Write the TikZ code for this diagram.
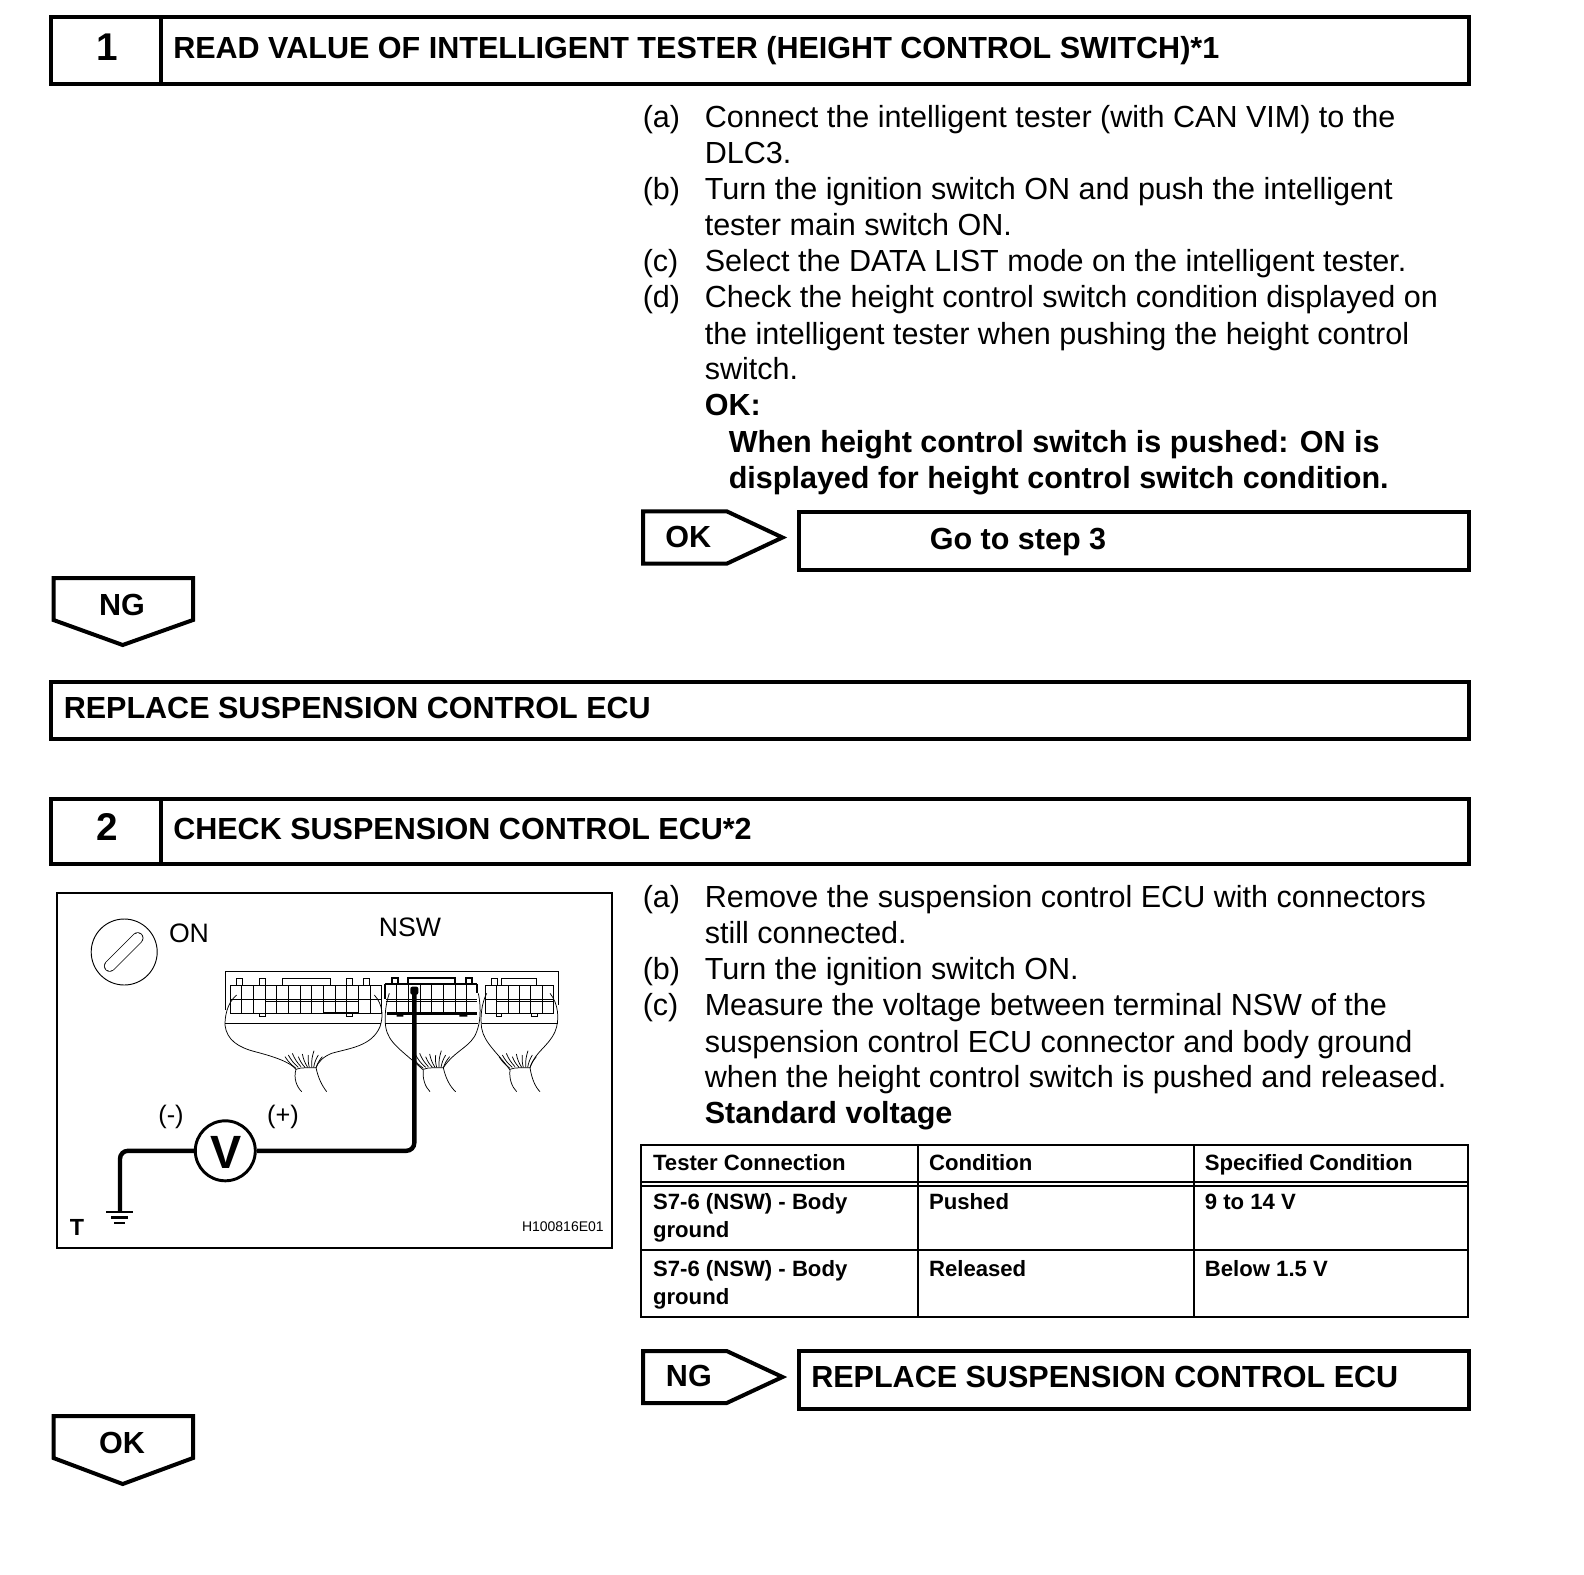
\documentclass[tikz,border=0pt]{standalone}
\usepackage{fontspec}
\setmainfont{Liberation Sans}
\tikzset{
 body/.style={anchor=base west,inner sep=0pt,font=\fontsize{22.9}{26}\selectfont},
 boldt/.style={anchor=base west,inner sep=0pt,font=\fontsize{22.9}{26}\selectfont\bfseries},
 headt/.style={anchor=base west,inner sep=0pt,font=\fontsize{22.9}{26}\selectfont\bfseries},
 numt/.style={inner sep=0pt,font=\fontsize{29}{32}\selectfont\bfseries},
 cellt/.style={anchor=base west,inner sep=0pt,font=\fontsize{16.6}{20}\selectfont\bfseries},
 frame/.style={draw=black,line width=3pt,fill=white},
 tag/.style={draw=black,line width=3pt,fill=white,line join=miter},
 tline/.style={draw=black,line width=1.5pt},
 thin line/.style={draw=black,line width=0.55pt},
 thick part/.style={draw=black,line width=1.5pt},
 probe/.style={draw=black,line width=3.3pt,rounded corners=6pt},
 figt/.style={inner sep=0pt,font=\fontsize{20}{24}\selectfont},
}
\begin{document}
\begin{tikzpicture}[x=0.75pt,y=-0.75pt]
\useasboundingbox (0,0) rectangle (1584,1574);
\fill[white] (0,0) rectangle (1584,1574);

% ---- step 1
\draw[frame] (51.2,17) rectangle (1468.7,84);
\draw[frame] (161.3,17) -- (161.3,84);
\node[numt] (n1) at (107,47) {1};
\node[headt] (h1) at (173,58.5) {READ VALUE OF INTELLIGENT TESTER (HEIGHT CONTROL SWITCH)*1};

\node[body] (a1) at (642.5,127.7) {(a)};
\node[body] (a1x) at (704.5,127.7) {Connect the intelligent tester (with CAN VIM) to the};
\node[body] (a2x) at (704.5,163.7) {DLC3.};
\node[body] (b1) at (642.5,199.7) {(b)};
\node[body] (b1x) at (704.5,199.7) {Turn the ignition switch ON and push the intelligent};
\node[body] (b2x) at (704.5,235.2) {tester main switch ON.};
\node[body] (c1) at (642.5,271.7) {(c)};
\node[body] (c1x) at (704.5,271.7) {Select the DATA LIST mode on the intelligent tester.};
\node[body] (d1) at (642.5,307.7) {(d)};
\node[body] (d1x) at (704.5,307.7) {Check the height control switch condition displayed on};
\node[body] (d2x) at (704.5,344.2) {the intelligent tester when pushing the height control};
\node[body] (d3x) at (704.5,379.7) {switch.};
\node[boldt] (ok1) at (704.5,415.7) {OK:};
\node[boldt] (ok2) at (728.5,452.2) {When height control switch is pushed: ON is};
\node[boldt] (ok3) at (728.5,488.7) {displayed for height control switch condition.};

\draw[tag] (643,511.3) -- (726.7,511.3) -- (782.5,537.5) -- (726.7,563.7) -- (643,563.7) -- cycle;
\node[headt] (okt) at (665,547.5) {OK};
\draw[frame] (799,512) rectangle (1468.7,570);
\node[headt] (go) at (929.5,549) {Go to step 3};

\draw[tag] (53.5,578) -- (193,578) -- (193,620) -- (122.7,645) -- (53.5,620) -- cycle;
\node[headt,anchor=center] (ng1) at (122,604.5) {NG};

\draw[frame] (51.2,682) rectangle (1468.7,738.5);
\node[headt] (r1) at (63.5,718) {REPLACE SUSPENSION CONTROL ECU};

% ---- step 2
\draw[frame] (51.2,799) rectangle (1468.7,864);
\draw[frame] (161.3,799) -- (161.3,864);
\node[numt] (n2) at (107,827) {2};
\node[headt] (h2) at (173,839.5) {CHECK SUSPENSION CONTROL ECU*2};

\node[body] (e1) at (642.5,907.7) {(a)};
\node[body] (e1x) at (704.5,907.7) {Remove the suspension control ECU with connectors};
\node[body] (e2x) at (704.5,943.2) {still connected.};
\node[body] (f1) at (642.5,979.7) {(b)};
\node[body] (f1x) at (704.5,979.7) {Turn the ignition switch ON.};
\node[body] (g1) at (642.5,1015.7) {(c)};
\node[body] (g1x) at (704.5,1015.7) {Measure the voltage between terminal NSW of the};
\node[body] (g2x) at (704.5,1052.2) {suspension control ECU connector and body ground};
\node[body] (g3x) at (704.5,1087.7) {when the height control switch is pushed and released.};
\node[boldt] (std) at (704.5,1123.7) {Standard voltage};

% ---- table
\draw[tline] (641,1145) rectangle (1468,1316.5);
\draw[tline] (641,1181.7) -- (1468,1181.7);
\draw[tline] (641,1185.7) -- (1468,1185.7);
\draw[tline] (641,1249.5) -- (1468,1249.5);
\draw[tline] (917.5,1145) -- (917.5,1318);
\draw[tline] (1193.5,1145) -- (1193.5,1318);
\node[cellt] (c11) at (652.8,1170) {Tester Connection};
\node[cellt] (c12) at (928.8,1170) {Condition};
\node[cellt] (c13) at (1204.6,1170) {Specified Condition};
\node[cellt] (c21) at (652.8,1209.5) {S7-6 (NSW) - Body};
\node[cellt] (c21b) at (652.8,1237) {ground};
\node[cellt] (c22) at (928.8,1209.5) {Pushed};
\node[cellt] (c23) at (1204.6,1209.5) {9 to 14 V};
\node[cellt] (c31) at (652.8,1276) {S7-6 (NSW) - Body};
\node[cellt] (c31b) at (652.8,1304) {ground};
\node[cellt] (c32) at (928.8,1276) {Released};
\node[cellt] (c33) at (1204.6,1276) {Below 1.5 V};

\draw[tag] (643,1351) -- (726.7,1351) -- (782.5,1377) -- (726.7,1403) -- (643,1403) -- cycle;
\node[headt] (ngt) at (665.7,1386) {NG};
\draw[frame] (799,1351) rectangle (1468.7,1408.5);
\node[headt] (r2) at (811,1387) {REPLACE SUSPENSION CONTROL ECU};

\draw[tag] (53.5,1416) -- (193,1416) -- (193,1458) -- (122.7,1484) -- (53.5,1458) -- cycle;
\node[headt,anchor=center] (ok2t) at (122,1442.5) {OK};

% ---- figure
\draw[draw=black,line width=1.5pt] (57,893) rectangle (612,1247.5);
\node[draw=black,line width=0.7pt,circle,minimum size=66pt*0.75,inner sep=0pt] (key) at (124.2,952) {};
\draw[black,line width=8.6pt,line cap=round] (109.7,966) -- (137.7,938);
\draw[white,line width=7.5pt,line cap=round] (109.7,966) -- (137.7,938);
\node[figt] (on) at (189,933) {ON};
\node[figt] (nsw) at (410,927) {NSW};

\begin{scope}[shift={(215,960)},x=0.25pt,y=-0.25pt]
 % outer shell
 \draw[thin line] (30,150) -- (30,35) -- (1030,35) -- (1030,135);
 \draw[thin line] (30,190) -- (498,190) (510,190) -- (790,190) (800,190) -- (1030,190);
 % block 1
 \draw[thin line] (47,75) rectangle (498,160);
 \draw[thin line] (47,118) -- (498,118) (150,125) -- (430,125);
 \foreach \vx in {80,115,150,185,220,255,290,325,360,395,430,465}
  \draw[thin line] (\vx,75) -- (\vx,160);
 \foreach \ta/\tb in {65/82,132/150,202/345,395/412,445/462}
  \draw[thin line] (\ta,75) -- (\ta,55) -- (\tb,55) -- (\tb,75);
 \foreach \ta/\tb in {132/150,395/412}
  \draw[thin line] (\ta,160) -- (\ta,168) -- (\tb,168) -- (\tb,160);
 \draw[thick part] (328,160) -- (432,160);
 % block 2
 \draw[thin line] (512,118) -- (787,118) (512,125) -- (787,125);
 \foreach \vx in {545,580,615,650,685,720,755}
  \draw[thin line] (\vx,72) -- (\vx,160);
 \draw[thick part] (510,72) -- (787,72) (510,72) -- (510,118) (787,72) -- (787,98);
 \draw[draw=black,line width=2pt] (515,160) -- (785,160);
 \foreach \ta/\tb in {530/548,580/720,752/770}
  \draw[thick part] (\ta,72) -- (\ta,53) -- (\tb,53) -- (\tb,72);
 \fill[black] (545,160) rectangle (565,170) (733,160) rectangle (757,170);
 % block 3
 \draw[thin line] (810,75) rectangle (1015,160);
 \draw[thin line] (810,118) -- (1015,118) (845,125) -- (1015,125);
 \foreach \vx in {845,880,913,947,983}
  \draw[thin line] (\vx,75) -- (\vx,160);
 \foreach \ta/\tb in {830/848,860/965}
  \draw[thin line] (\ta,75) -- (\ta,55) -- (\tb,55) -- (\tb,75);
 \foreach \ta/\tb in {845/860,950/967}
  \draw[thin line] (\ta,160) -- (\ta,168) -- (\tb,168) -- (\tb,160);
 % harness 1
 \draw[thin line] (65,105) .. controls (35,130) and (30,170) .. (30,195) .. controls (35,240) and (70,262) .. (120,275) .. controls (170,288) and (225,305) .. (243,328) .. controls (235,355) and (245,380) .. (260,395);
 \draw[thin line] (478,105) .. controls (505,135) and (505,170) .. (495,200) .. controls (470,260) and (400,265) .. (350,280) .. controls (325,290) and (310,305) .. (303,323) .. controls (310,355) and (320,375) .. (335,395);
 % harness 2
 \draw[thin line] (523,100) .. controls (512,130) and (508,170) .. (512,200) .. controls (520,250) and (560,270) .. (625,330) .. controls (622,355) and (630,380) .. (645,395);
 \draw[thin line] (790,100) .. controls (800,150) and (795,190) .. (785,215) .. controls (770,260) and (720,270) .. (685,323) .. controls (692,355) and (705,380) .. (722,395);
 % harness 3
 \draw[thin line] (815,100) .. controls (800,130) and (795,170) .. (800,205) .. controls (808,250) and (850,280) .. (885,330) .. controls (882,355) and (890,380) .. (905,395);
 \draw[thin line] (1005,100) .. controls (1030,130) and (1035,180) .. (1020,215) .. controls (1000,260) and (960,275) .. (945,323) .. controls (950,355) and (960,380) .. (975,395);
 % bundle necks and fanned wires
 \foreach \off in {0,382,642} {
  \draw[thin line] ({243+\off},328) .. controls ({260+\off},320) and ({285+\off},325) .. ({303+\off},323);
  \foreach \fa/\fb/\fc/\fd in {210/290/243/325,220/285/250/322,232/280/258/320,250/290/270/322,262/282/278/322,280/285/283/322,297/272/290/322,310/285/296/322,322/290/303/323}
   \draw[thin line] ({\fa+\off},\fb) to[bend right=10] ({\fc+\off},\fd);
 }
 \coordinate (term) at (598,92);
 \fill[black,rounded corners=1.5pt] (586,80) rectangle (610,104);
\end{scope}

\node[draw=black,line width=2.2pt,circle,minimum size=60pt*0.75,inner sep=0pt,fill=white] (vm) at (225.3,1150.8) {};
\node[inner sep=0pt,font=\fontsize{35}{40}\selectfont\bfseries] (vl) at (226.5,1152.8) {V};
\coordinate (gnd) at (120,1211.7);
\draw[probe] (term) |- (vm.east);
\draw[probe] (vm.west) -| (gnd);
\draw[black,line width=1.8pt] (106,1211.7) -- (132.7,1211.7);
\draw[black,line width=1.8pt] (111,1217.3) -- (128,1217.3);
\draw[black,line width=1.8pt] (114,1223) -- (125,1223);
\node[figt,font=\fontsize{19}{22}\selectfont] (neg) at (171,1116.5) {(-)};
\node[figt,font=\fontsize{19}{22}\selectfont] (pos) at (283,1116.5) {(+)};
\node[figt,font=\fontsize{17.5}{20}\selectfont\bfseries] (tt) at (77,1227) {T};
\node[inner sep=0pt,anchor=east,font=\fontsize{10.5}{12}\selectfont] (code) at (604,1227) {H100816E01};
\end{tikzpicture}
\end{document}
